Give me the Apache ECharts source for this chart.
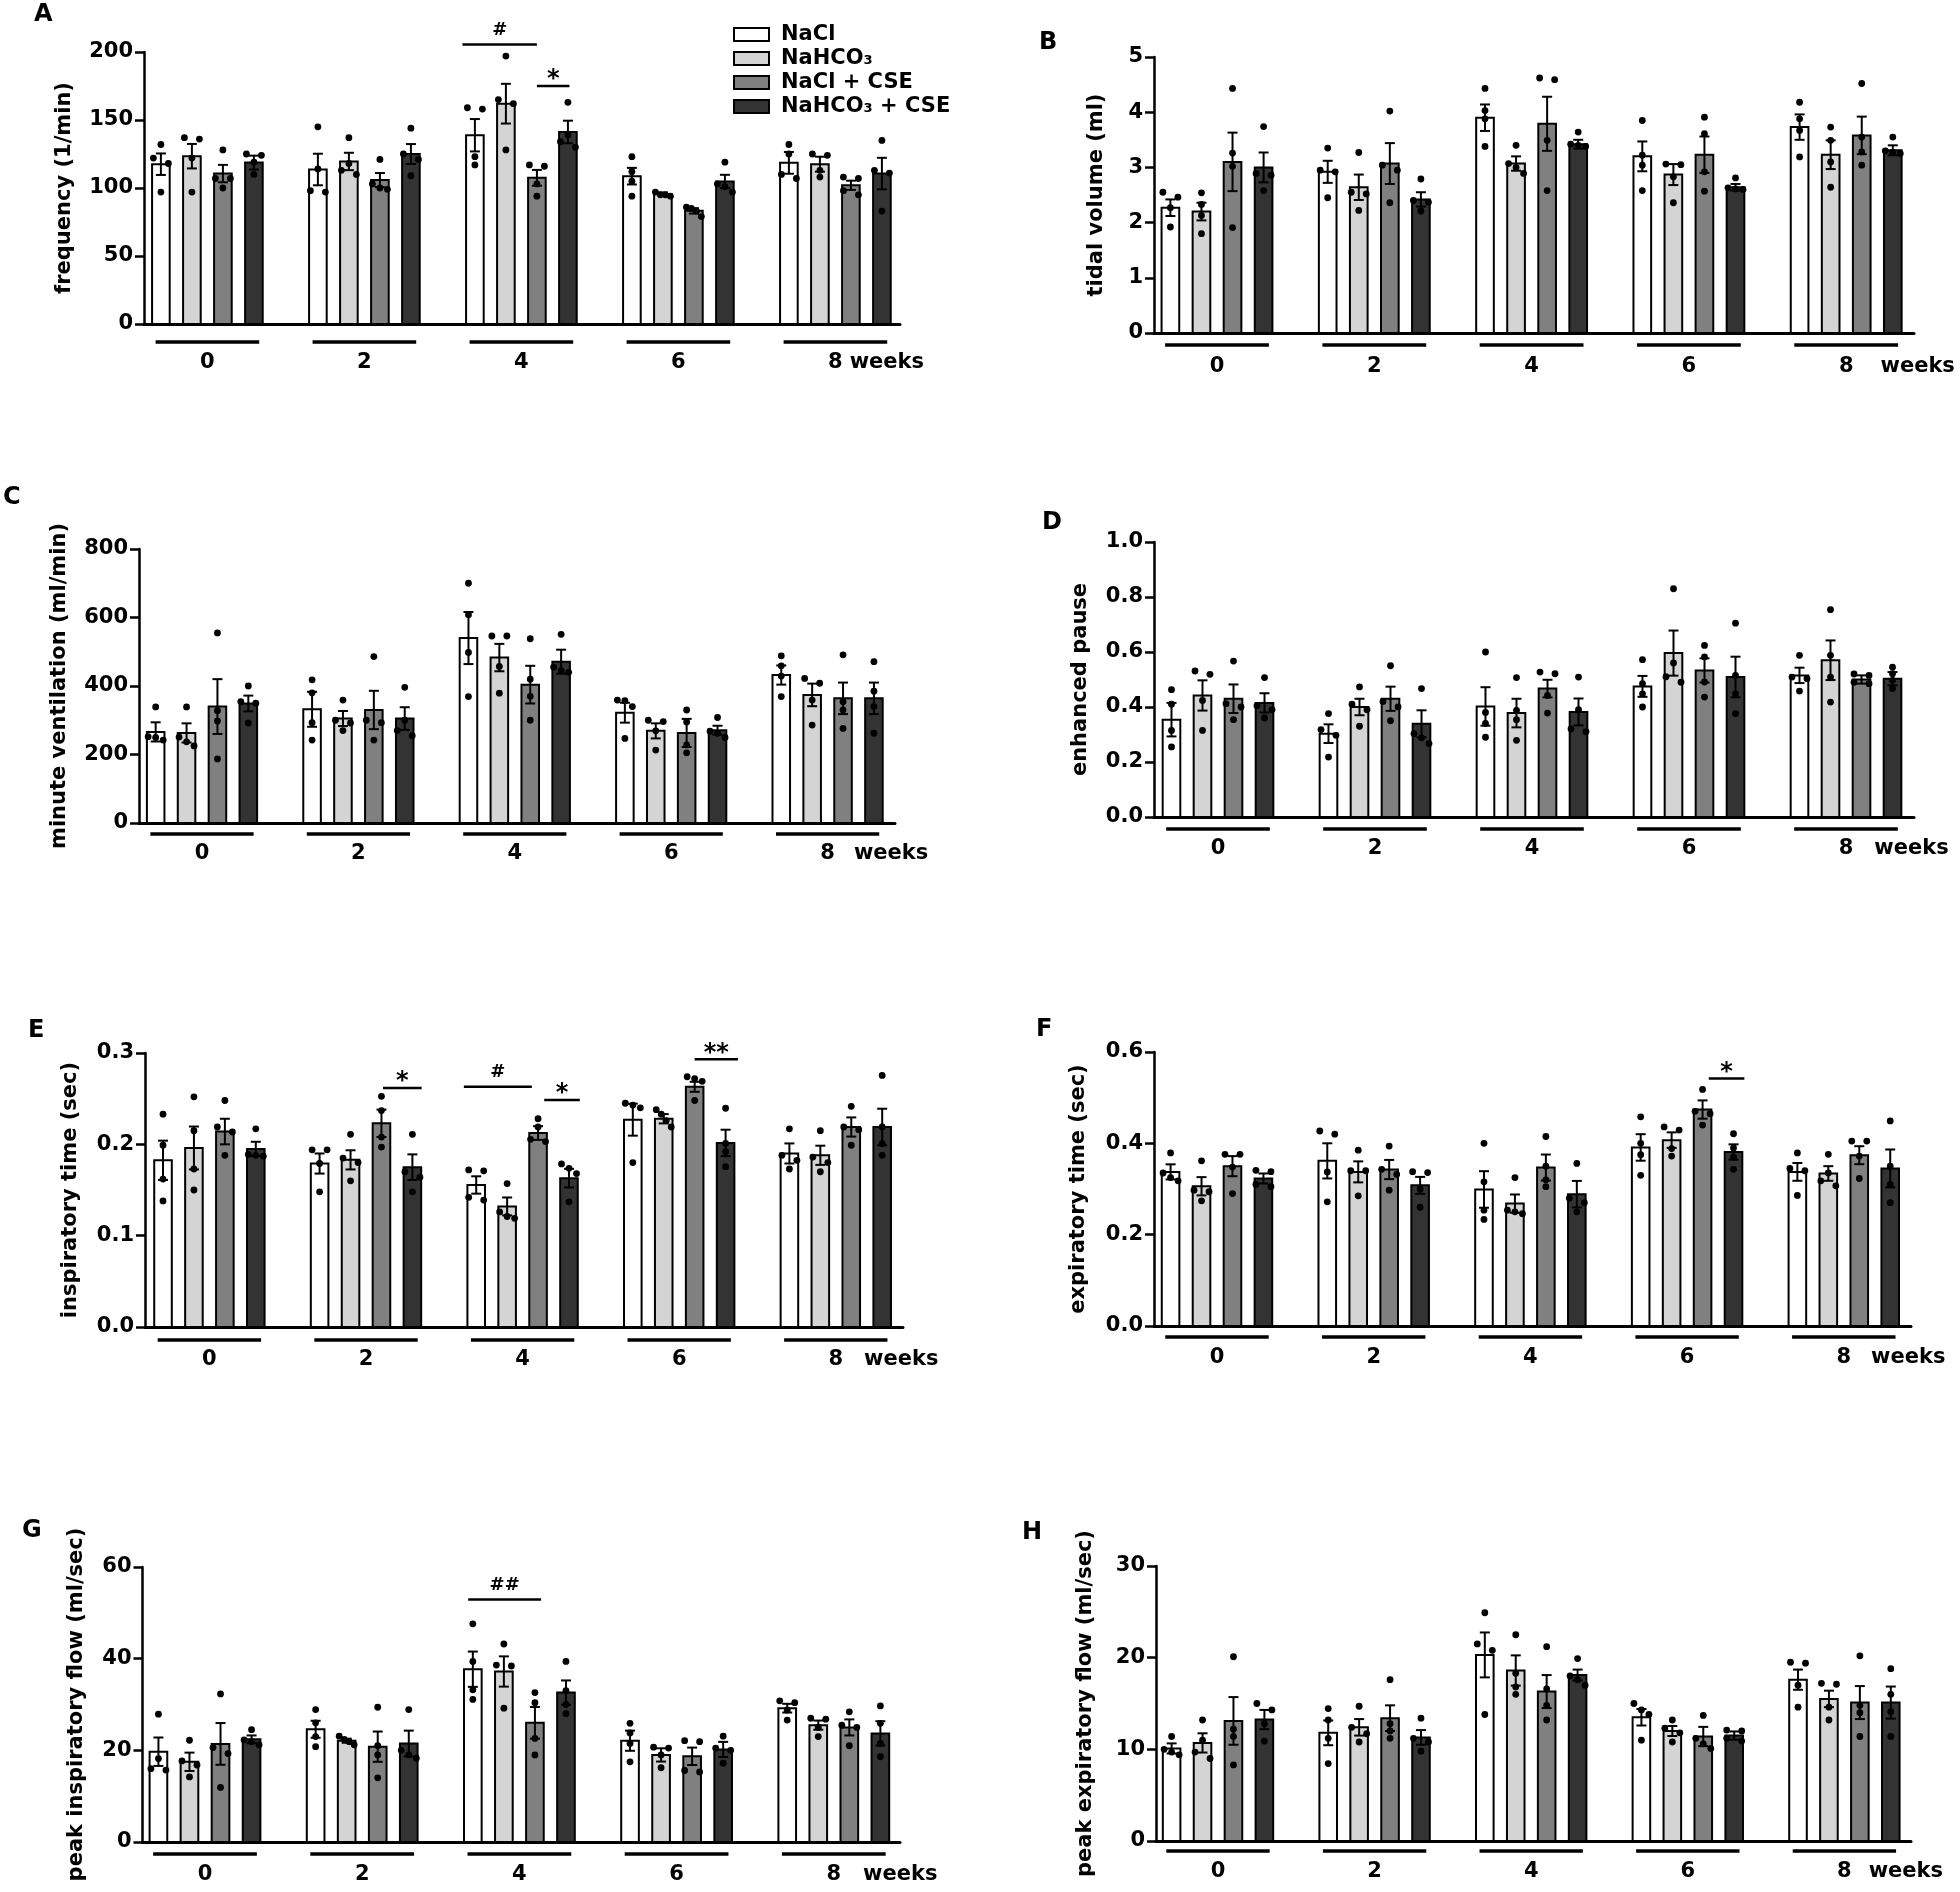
<!DOCTYPE html>
<html>
<head>
<meta charset="utf-8">
<script src="https://cdn.jsdelivr.net/npm/echarts@6/dist/echarts.min.js"></script>
<style>
html,body{margin:0;padding:0;background:#fff;}
#chart{width:1960px;height:1892px;}
</style>
</head>
<body>
<div id="chart"></div>
<script>
// ---------------- data ----------------
const WEEKS = ['0', '2', '4', '6', '8'];
const GROUPS = ['NaCl', 'NaHCO₃', 'NaCl + CSE', 'NaHCO₃ + CSE'];

// A: frequency (1/min)
const A_mean = [[117.5,113.6,138.8,108.7,118.5],[123.4,119.5,162,95.5,117.5],[110.6,105.8,107.5,83.2,102],[118.7,125,141.2,104.8,110.6]];
const A_sem  = [[7.9,11.6,11.9,6.1,8],[9,6.4,14.6,1.3,5.5],[6.4,5.2,5.8,2,3.4],[5.1,7.3,8.3,4.9,11.6]];
const A_dots = [
  [[132,122,118,97],[145,114,98,97],[159,158,123,117],[123,112,105,94],[132,125,110,107]],
  [[136,137,122,97],[137,118,113,110],[197,165,162,128],[97,95,95,94],[125,124,113,108]],
  [[128,107,100,107],[121,103,100,99],[117,116,103,94],[86,85,83,79],[108,107,98,95]],
  [[125,124,119,110],[144,125,121,109],[163,139,134,130],[119,103,101,97],[135,113,111,83]]];
const A_sig = [[2,205.5,-0.4,2.0,'#'],[2,175,2.0,3.05,'*']];

// B: tidal volume (ml)
const B_mean = [[2.27,2.92,3.9,3.2,3.73],[2.2,2.64,3.07,2.87,3.23],[3.1,3.07,3.79,3.23,3.58],[3.0,2.42,3.42,2.64,3.31]];
const B_sem  = [[0.15,0.2,0.24,0.27,0.23],[0.16,0.23,0.13,0.19,0.26],[0.53,0.37,0.49,0.33,0.34],[0.27,0.13,0.08,0.06,0.09]];
const B_dots = [
  [[2.46,2.55,2.27,1.92],[3.35,2.95,2.92,2.45],[4.43,4.03,3.88,3.38],[3.85,3.22,3.04,2.58],[4.18,3.88,3.67,3.19]],
  [[2.54,2.33,2.13,1.80],[3.27,2.55,2.52,2.22],[3.40,3.07,3.00,2.89],[3.06,3.05,2.83,2.36],[3.73,3.49,3.10,2.64]],
  [[4.43,3.26,3.02,1.91],[4.02,3.04,2.95,2.36],[4.59,4.62,3.49,2.58],[3.91,3.61,2.92,2.57],[4.52,3.55,3.28,3.04]],
  [[3.74,2.89,2.86,2.58],[2.79,2.40,2.37,2.21],[3.64,3.42,3.40,3.38],[2.81,2.63,2.61,2.60],[3.55,3.30,3.27,3.25]]];
const B_sig = [];

// C: minute ventilation (ml/min)
const C_mean = [[266,332,540,322,432],[263,305,483,269,374],[340,330,404,263,364],[349,305,471,271,364]];
const C_sem  = [[28,51,76,29,28],[28,22,40,22,33],[80,56,55,41,46],[23,33,35,13,46]];
const C_dots = [
  [[339,252,250,242],[418,380,293,242],[700,608,498,369],[357,359,340,247],[488,459,429,369]],
  [[339,251,237,225],[359,300,292,270],[546,546,457,379],[300,296,269,213],[422,408,359,286]],
  [[555,328,298,187],[486,300,293,242],[538,420,370,300],[330,295,228,205],[491,354,330,276]],
  [[400,354,350,292],[396,300,270,255],[551,455,445,440],[308,268,262,250],[471,385,340,262]]];
const C_sig = [];

// D: enhanced pause
const D_mean = [[0.354,0.303,0.402,0.475,0.515],[0.442,0.40,0.378,0.596,0.57],[0.43,0.43,0.467,0.533,0.50],[0.415,0.339,0.382,0.509,0.503]];
const D_sem  = [[0.061,0.034,0.07,0.038,0.028],[0.055,0.03,0.052,0.082,0.072],[0.052,0.044,0.032,0.044,0.015],[0.035,0.049,0.049,0.074,0.024]];
const D_dots = [
  [[0.463,0.41,0.315,0.255],[0.376,0.318,0.297,0.218],[0.60,0.38,0.34,0.29],[0.572,0.485,0.448,0.40],[0.588,0.509,0.503,0.458]],
  [[0.519,0.531,0.424,0.315],[0.473,0.41,0.39,0.33],[0.507,0.388,0.354,0.279],[0.83,0.56,0.51,0.49],[0.754,0.588,0.509,0.418]],
  [[0.567,0.412,0.40,0.354],[0.55,0.42,0.40,0.35],[0.521,0.527,0.442,0.378],[0.624,0.582,0.491,0.436],[0.52,0.515,0.49,0.485]],
  [[0.507,0.405,0.39,0.36],[0.467,0.303,0.288,0.267],[0.509,0.39,0.32,0.31],[0.705,0.515,0.448,0.376],[0.545,0.521,0.497,0.467]]];
const D_sig = [];

// E: inspiratory time (sec)
const E_mean = [[0.1825,0.179,0.1555,0.227,0.19],[0.196,0.183,0.132,0.228,0.188],[0.214,0.223,0.2124,0.263,0.219],[0.195,0.175,0.163,0.2015,0.219]];
const E_sem  = [[0.0215,0.011,0.0095,0.0175,0.011],[0.0235,0.0105,0.0098,0.0051,0.0105],[0.014,0.015,0.0075,0.0055,0.0105],[0.0078,0.014,0.0102,0.0145,0.02]];
const E_dots = [
  [[0.233,0.199,0.162,0.138],[0.194,0.194,0.179,0.148],[0.172,0.171,0.142,0.139],[0.245,0.243,0.24,0.18],[0.217,0.188,0.1825,0.173]],
  [[0.252,0.215,0.173,0.15],[0.211,0.185,0.18,0.16],[0.157,0.126,0.121,0.119],[0.238,0.233,0.226,0.219],[0.215,0.186,0.18,0.17]],
  [[0.248,0.219,0.2135,0.188],[0.2526,0.237,0.208,0.197],[0.228,0.219,0.2055,0.203],[0.274,0.272,0.269,0.248],[0.2416,0.219,0.216,0.199]],
  [[0.217,0.189,0.188,0.187],[0.211,0.17,0.164,0.148],[0.1785,0.1737,0.168,0.137],[0.2395,0.201,0.192,0.1755],[0.2755,0.219,0.2007,0.188]]];
const E_sig = [[1,0.2617,2.05,3.3,'*'],[2,0.2631,-0.4,1.8,'#'],[2,0.2485,2.2,3.35,'*'],[3,0.2931,2.0,3.4,'**']];

// F: expiratory time (sec)
const F_mean = [[0.3375,0.3616,0.299,0.391,0.3375],[0.306,0.3375,0.268,0.407,0.334],[0.35,0.3426,0.347,0.474,0.374],[0.323,0.308,0.2887,0.381,0.345]];
const F_sem  = [[0.0165,0.0385,0.04,0.029,0.0195],[0.02,0.023,0.02,0.017,0.016],[0.022,0.021,0.0285,0.02,0.0197],[0.011,0.0185,0.029,0.0168,0.0415]];
const F_dots = [
  [[0.379,0.335,0.325,0.318],[0.42,0.427,0.3375,0.272],[0.40,0.3157,0.2537,0.2333],[0.458,0.40,0.375,0.33],[0.379,0.345,0.34,0.286]],
  [[0.3616,0.2974,0.294,0.274],[0.385,0.34,0.34,0.285],[0.325,0.2537,0.25,0.246],[0.436,0.429,0.3886,0.372],[0.376,0.335,0.318,0.307]],
  [[0.376,0.376,0.348,0.29],[0.394,0.343,0.332,0.2974],[0.415,0.35,0.32,0.305],[0.518,0.47,0.465,0.44],[0.405,0.405,0.372,0.323]],
  [[0.341,0.338,0.31,0.305],[0.338,0.336,0.30,0.26],[0.356,0.28,0.27,0.25],[0.421,0.39,0.37,0.343],[0.449,0.35,0.31,0.27]]];
const F_sig = [[3,0.5417,2.2,3.35,'*']];

// G: peak inspiratory flow (ml/sec)
const G_mean = [[19.7,24.6,37.7,22.1,29.2],[17.5,22.1,37.2,19.0,25.5],[21.4,20.8,26.0,18.7,25.0],[22.4,21.5,32.6,20.2,23.7]];
const G_sem  = [[3.1,1.85,3.85,2.2,0.95],[2.0,0.45,3.3,1.45,1.0],[4.55,3.3,3.45,1.9,1.75],[0.85,2.8,2.65,1.65,2.65]];
const G_dots = [
  [[27.9,18.2,16.0,15.7],[28.9,26.0,23.0,20.8],[47.6,39.4,33.2,31.1],[25.9,23.8,21.5,17.5],[30.4,30.8,28.8,26.6]],
  [[22.2,17.7,16.8,14.2],[23.1,22.4,21.9,21.2],[43.2,38.6,38.4,29.2],[20.7,20.5,19.0,16.2],[26.8,27.0,25.0,23.0]],
  [[32.3,20.6,19.3,11.9],[29.4,21.0,19.0,14.0],[32.6,30.4,22.6,19.0],[22.1,21.9,15.6,15.3],[28.4,25.5,25.0,21.0]],
  [[24.5,22.3,21.9,21.2],[28.9,20.0,19.0,18.3],[39.4,33.0,30.0,28.0],[23.1,20.5,20.0,17.2],[29.7,25.9,21.5,18.6]]];
const G_sig = [[2,52.9,-0.15,2.2,'##']];

// H: peak expiratory flow (ml/sec)
const H_mean = [[10.1,11.8,20.3,13.5,17.6],[10.7,12.4,18.6,12.0,15.5],[13.1,13.4,16.3,11.4,15.1],[13.25,11.3,18.1,11.5,15.1]];
const H_sem  = [[0.55,1.35,2.45,0.9,1.1],[1.05,0.9,1.65,0.55,0.9],[2.6,1.4,1.8,1.05,1.8],[1.05,0.8,0.6,0.45,1.75]];
const H_dots = [
  [[11.4,10.0,9.7,9.4],[14.45,13.2,11.2,8.45],[24.9,21.5,20.8,13.8],[15.0,14.3,13.8,11.0],[19.4,19.5,17.0,14.6]],
  [[13.2,11.0,9.7,9.0],[14.7,12.4,11.7,10.8],[22.5,18.3,16.8,16.0],[13.2,12.3,11.8,10.8],[17.2,17.1,14.6,13.2]],
  [[20.1,12.2,11.4,8.3],[17.6,12.8,12.0,11.2],[21.2,16.6,14.8,13.2],[13.7,11.2,10.6,10.1],[20.2,14.8,14.0,11.4]],
  [[15.0,14.3,12.8,10.9],[13.4,11.2,10.8,9.8],[19.9,18.0,17.6,17.0],[12.1,12.0,11.2,10.9],[18.8,16.0,14.1,11.4]]];
const H_sig = [];

// ---------------- styling / layout ----------------
const COLORS = ['#ffffff', '#d4d4d4', '#808080', '#333333'];
const FONT = '"DejaVu Sans", "Liberation Sans", sans-serif';
const BAR_STEP = 0.1975;   // distance between bar centres (group units)
const BAR_W = 0.125;       // bar width (group units)

const PANELS = [
  {id:'A', name:'frequency (1/min)', mean:A_mean, sem:A_sem, dots:A_dots, sig:A_sig, max:200, interval:50, dec:0,
   left:144, right:900, top:52, bottom:324, c0:207.4, pitch:157, ul:18, lbl:39, nameGap:69, wGap:7, lx:34, ly:3},
  {id:'B', name:'tidal volume (ml)', mean:B_mean, sem:B_sem, dots:B_dots, sig:B_sig, max:5, interval:1, dec:0,
   left:1154, right:1914, top:57, bottom:333, c0:1217, pitch:157.3, ul:12, lbl:34, nameGap:47, wGap:27, lx:1039, ly:31},
  {id:'C', name:'minute ventilation (ml/min)', mean:C_mean, sem:C_sem, dots:C_dots, sig:C_sig, max:800, interval:200, dec:0,
   left:139, right:895, top:549, bottom:823, c0:202, pitch:156.4, ul:11, lbl:31, nameGap:69, wGap:19, lx:3, ly:486},
  {id:'D', name:'enhanced pause', mean:D_mean, sem:D_sem, dots:D_dots, sig:D_sig, max:1, interval:0.2, dec:1,
   left:1154, right:1914, top:542, bottom:817, c0:1218, pitch:157, ul:12, lbl:32, nameGap:63, wGap:21, lx:1042, ly:511},
  {id:'E', name:'inspiratory time (sec)', mean:E_mean, sem:E_sem, dots:E_dots, sig:E_sig, max:0.3, interval:0.1, dec:1,
   left:145, right:903, top:1053, bottom:1327, c0:209.4, pitch:156.6, ul:13, lbl:33, nameGap:64, wGap:21, lx:28, ly:1019},
  {id:'F', name:'expiratory time (sec)', mean:F_mean, sem:F_sem, dots:F_dots, sig:F_sig, max:0.6, interval:0.2, dec:1,
   left:1154, right:1911, top:1052, bottom:1326, c0:1217, pitch:156.7, ul:11, lbl:32, nameGap:65, wGap:20, lx:1036, ly:1018},
  {id:'G', name:'peak inspiratory flow (ml/sec)', mean:G_mean, sem:G_sem, dots:G_dots, sig:G_sig, max:60, interval:20, dec:0,
   left:142.5, right:900, top:1567, bottom:1842, c0:205, pitch:157.2, ul:12, lbl:33, nameGap:55, wGap:22, lx:22, ly:1519},
  {id:'H', name:'peak expiratory flow (ml/sec)', mean:H_mean, sem:H_sem, dots:H_dots, sig:H_sig, max:30, interval:10, dec:0,
   left:1156, right:1911, top:1566, bottom:1841, c0:1218, pitch:156.6, ul:10, lbl:31, nameGap:60, wGap:17, lx:1022, ly:1521}
];

// measure text width
const mctx = document.createElement('canvas').getContext('2d');
function textW(t, size) { mctx.font = 'bold ' + size + 'px "DejaVu Sans"'; return mctx.measureText(t).width; }
const XL_SIZE = 21;
const WEEKS_W = textW('weeks', XL_SIZE);

function barRenderer(s) {
  return function (params, api) {
    const g = api.value(0), m = api.value(1), se = api.value(2);
    const xc = g + (s - 1.5) * BAR_STEP;
    const pL = api.coord([xc - BAR_W / 2, 0]);
    const pR = api.coord([xc + BAR_W / 2, 0]);
    const pT = api.coord([xc, m]);
    const cx = pT[0];
    const yHi = api.coord([xc, m + se])[1];
    const yLo = api.coord([xc, m - se])[1];
    const cap = 5;
    const children = [
      {type: 'rect', shape: {x: pL[0] + 1, y: pT[1], width: pR[0] - pL[0] - 2, height: pL[1] - pT[1]},
       style: {fill: COLORS[s], stroke: '#000', lineWidth: 2}},
      {type: 'line', shape: {x1: cx, y1: yHi, x2: cx, y2: yLo}, style: {stroke: '#000', lineWidth: 2}},
      {type: 'line', shape: {x1: cx - cap, y1: yHi, x2: cx + cap, y2: yHi}, style: {stroke: '#000', lineWidth: 2}},
      {type: 'line', shape: {x1: cx - cap, y1: yLo, x2: cx + cap, y2: yLo}, style: {stroke: '#000', lineWidth: 2}}
    ];
    // beeswarm-like arrangement of the individual points
    const ys = [3, 4, 5, 6].map(i => api.coord([xc, api.value(i)])[1]).sort((a, b) => a - b);
    const clusters = [];
    ys.forEach(y => {
      const last = clusters[clusters.length - 1];
      if (last && y - last[last.length - 1] < 6.5) last.push(y); else clusters.push([y]);
    });
    const OFF = {1: [0], 2: [-7.5, 7.5], 3: [-7.5, 0, 7.5], 4: [-7.5, -2.5, 2.5, 7.5]};
    clusters.forEach(c => {
      c.forEach((y, k) => {
        children.push({type: 'circle', shape: {cx: cx + OFF[c.length][k], cy: y, r: 3.4}, style: {fill: '#000'}});
      });
    });
    return {type: 'group', children};
  };
}

const option = {
  backgroundColor: '#fff',
  animation: false,
  title: [], grid: [], xAxis: [], yAxis: [], series: [],
  legend: {
    orient: 'vertical', left: 728, top: 19, itemWidth: 35, itemHeight: 13, itemGap: 3,
    selectedMode: false,
    textStyle: {fontSize: 21, fontWeight: 'bold', fontFamily: FONT, color: '#000', lineHeight: 20, padding: [0, 0, 0, 7]},
    data: GROUPS.map((n, i) => ({name: n, icon: 'rect', itemStyle: {color: COLORS[i], borderColor: '#000', borderWidth: 2}}))
  }
};

PANELS.forEach((P, pi) => {
  option.title.push({text: P.id, left: P.lx, top: P.ly, padding: 0,
    textStyle: {fontSize: 24, fontWeight: 'bold', fontFamily: FONT, color: '#000'}});
  option.grid.push({left: P.left, top: P.top, width: P.right - P.left, height: P.bottom - P.top,
    containLabel: false, outerBoundsMode: 'none'});
  const xmin = -(P.c0 - P.left) / P.pitch;
  const xmax = xmin + (P.right - P.left) / P.pitch;
  const lastLabel = '{e|' + WEEKS[4] + '}{w|weeks}';
  const txt = {fontSize: XL_SIZE, fontWeight: 'bold', fontFamily: FONT, color: '#000'};
  option.xAxis.push({
    gridIndex: pi, type: 'value', min: xmin, max: xmax,
    axisLine: {show: true, onZero: false, lineStyle: {color: '#000', width: 3}},
    axisTick: {show: false}, splitLine: {show: false},
    axisLabel: Object.assign({
      show: true, customValues: [0, 1, 2, 3, 4], margin: P.lbl - 11,
      formatter: v => { const i = Math.round(v); return i === 4 ? lastLabel : WEEKS[i]; },
      rich: {
        e: Object.assign({padding: [0, 0, 0, P.wGap + WEEKS_W]}, txt),
        w: Object.assign({padding: [0, 0, 0, P.wGap]}, txt)
      }
    }, txt)
  });
  option.yAxis.push({
    gridIndex: pi, type: 'value', min: 0, max: P.max, interval: P.interval,
    axisLine: {show: true, onZero: false, lineStyle: {color: '#000', width: 2.5}},
    axisTick: {show: true, length: 9, lineStyle: {color: '#000', width: 2.5}},
    splitLine: {show: false},
    axisLabel: {fontSize: 21, fontWeight: 'bold', fontFamily: FONT, color: '#000', margin: 11,
      formatter: v => v.toFixed(P.dec)},
    name: P.name, nameLocation: 'middle', nameGap: P.nameGap,
    nameTextStyle: {fontSize: 21, fontWeight: 'bold', fontFamily: FONT, color: '#000'}
  });
  // bars, error bars, points
  GROUPS.forEach((gname, s) => {
    option.series.push({
      type: 'custom', name: gname, xAxisIndex: pi, yAxisIndex: pi, silent: true, clip: false,
      itemStyle: {color: COLORS[s], borderColor: '#000', borderWidth: 2},
      data: WEEKS.map((w, g) => [g, P.mean[s][g], P.sem[s][g]].concat(P.dots[s][g])),
      renderItem: barRenderer(s)
    });
  });
  // group underlines
  option.series.push({
    type: 'custom', xAxisIndex: pi, yAxisIndex: pi, silent: true, clip: false,
    data: WEEKS.map((w, g) => [g, 0]),
    renderItem: (params, api) => {
      const g = api.value(0);
      const a = api.coord([g - 0.33, 0]), b = api.coord([g + 0.33, 0]);
      return {type: 'line', shape: {x1: a[0], y1: a[1] + P.ul, x2: b[0], y2: a[1] + P.ul},
        style: {stroke: '#000', lineWidth: 3.5}};
    }
  });
  // significance marks
  if (P.sig.length) {
    option.series.push({
      type: 'custom', xAxisIndex: pi, yAxisIndex: pi, silent: true, clip: false,
      data: P.sig.map(r => [r[0], r[1]]),
      renderItem: (params, api) => {
        const r = P.sig[params.dataIndex];
        const g = api.value(0), y = api.value(1);
        const a = api.coord([g + (r[2] - 1.5) * BAR_STEP, y]);
        const b = api.coord([g + (r[3] - 1.5) * BAR_STEP, y]);
        const star = r[4].indexOf('*') >= 0;
        return {type: 'group', children: [
          {type: 'line', shape: {x1: a[0], y1: a[1], x2: b[0], y2: b[1]}, style: {stroke: '#000', lineWidth: 2.5}},
          {type: 'text', x: (a[0] + b[0]) / 2, y: a[1] - (star ? 6 : 14),
           style: {text: r[4], fontSize: star ? 24 : 18, fontWeight: 'bold', fontFamily: FONT, fill: '#000',
             align: 'center', verticalAlign: 'middle'}}
        ]};
      }
    });
  }
});

const chart = echarts.init(document.getElementById('chart'), null, {renderer: 'canvas', width: 1960, height: 1892});
chart.setOption(option);
</script>
</body>
</html>
